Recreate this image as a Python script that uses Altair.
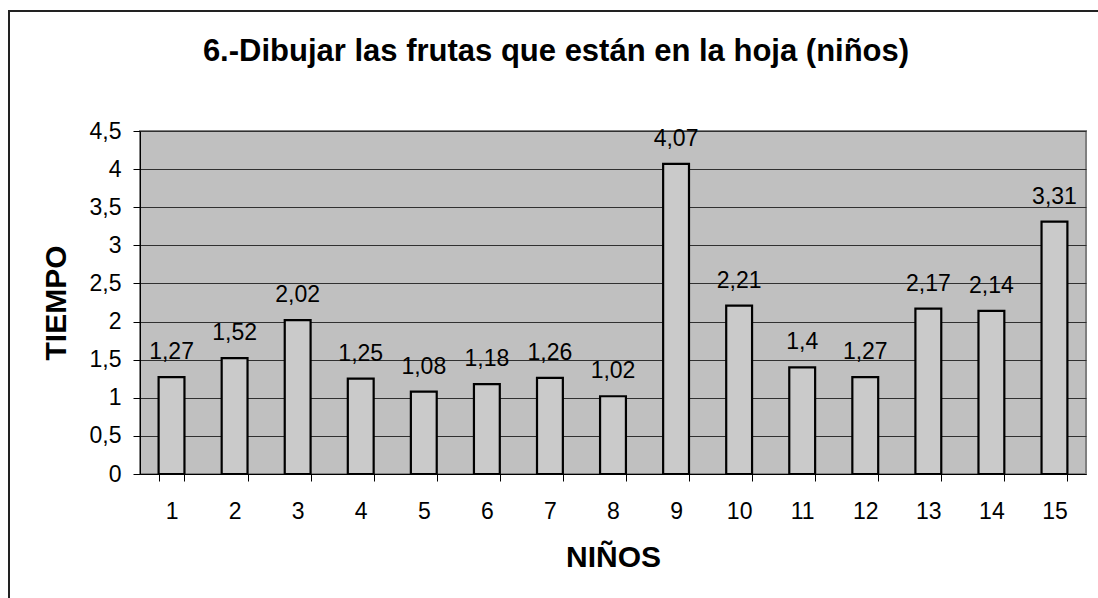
import altair as alt
import pandas as pd

# Tiempo empleado por cada niño en la actividad 6
ninos = [str(i) for i in range(1, 16)]
tiempos = [1.27, 1.52, 2.02, 1.25, 1.08, 1.18, 1.26, 1.02, 4.07, 2.21, 1.40, 1.27, 2.17, 2.14, 3.31]
y_ticks = [0, 0.5, 1, 1.5, 2, 2.5, 3, 3.5, 4, 4.5]
titulo = "6.-Dibujar las frutas que están en la hoja (niños)"

df = pd.DataFrame({"nino": ninos, "tiempo": tiempos})

FONT = "Liberation Sans"
LABEL_SIZE = 23

x_enc = alt.X(
    "nino:N",
    sort=ninos,
    scale=alt.Scale(paddingInner=0.59, paddingOuter=0.295),
    axis=alt.Axis(
        title="NIÑOS",
        titleFont=FONT,
        titleFontSize=30,
        titleFontWeight="bold",
        titleColor="black",
        titleX=473,
        titleY=92,
        titleBaseline="alphabetic",
        labelAngle=0,
        labelFont=FONT,
        labelFontSize=LABEL_SIZE,
        labelColor="black",
        labelPadding=19,
        tickBand="extent",
        tickSize=7,
        tickColor="black",
        domainColor="black",
        domainWidth=1,
        grid=False,
    ),
)

y_enc = alt.Y(
    "tiempo:Q",
    scale=alt.Scale(domain=[0, 4.5], nice=False),
    axis=alt.Axis(
        title="TIEMPO",
        titleFont=FONT,
        titleFontSize=30,
        titleFontWeight="bold",
        titleColor="black",
        titleAngle=270,
        titleX=-75,
        titleY=171.5,
        titleBaseline="alphabetic",
        values=y_ticks,
        labelExpr="replace(toString(datum.value), '.', ',')",
        labelFont=FONT,
        labelFontSize=LABEL_SIZE,
        labelColor="black",
        labelPadding=12,
        labelOverlap=False,
        tickSize=7,
        tickColor="black",
        domainColor="black",
        domainWidth=1,
        grid=True,
        gridColor="#303030",
        gridWidth=1,
    ),
)

base = alt.Chart(df).encode(x=x_enc, y=y_enc)

bars = base.mark_bar(fill="#CACACA", stroke="black", strokeWidth=2.2)

labels = base.transform_calculate(
    etiqueta="replace(toString(datum.tiempo), '.', ',')"
).mark_text(
    font=FONT, fontSize=LABEL_SIZE, color="black", baseline="alphabetic", dy=-18
).encode(text="etiqueta:N")

# Chart title and outer frame (top and left edges)
deco_df = pd.DataFrame({"titulo": [titulo]})
title_mark = alt.Chart(deco_df).mark_text(
    font=FONT, fontSize=31, fontWeight="bold", color="black",
    align="center", baseline="alphabetic",
).encode(text="titulo:N", x=alt.value(416), y=alt.value(-70))
frame_top = alt.Chart(deco_df).mark_rule(color="#222222", strokeWidth=2).encode(
    x=alt.value(-132), x2=alt.value(1000), y=alt.value(-120)
)
frame_left = alt.Chart(deco_df).mark_rule(color="#222222", strokeWidth=2).encode(
    x=alt.value(-131), y=alt.value(-121), y2=alt.value(500)
)

chart = alt.layer(bars, labels, title_mark, frame_top, frame_left).properties(
    width=946,
    height=343,
    background="white",
    autosize=alt.AutoSizeParams(type="none"),
    padding={"left": 140, "top": 131, "right": 12, "bottom": 124},
).configure_view(fill="#C0C0C0", stroke="#808080", strokeWidth=2)

chart.save("out.html", embed_options={"renderer": "svg", "actions": False})
